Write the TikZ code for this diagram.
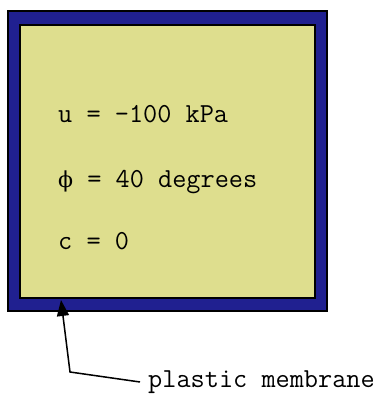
\documentclass[tikz,border=0pt]{standalone}
\usepackage{fontspec}
\newfontfamily\phifont{DejaVu Serif}
\usetikzlibrary{arrows.meta}
\definecolor{navy}{RGB}{32,32,144}
\definecolor{sand}{RGB}{222,222,142}
\begin{document}
\begin{tikzpicture}[x=1pt,y=1pt,
  txt/.style={anchor=base west,inner sep=0pt,font=\ttfamily\fontsize{27.5}{32}\selectfont},
  lbl/.style={anchor=base west,inner sep=0pt,font=\ttfamily\fontsize{27.5}{32}\selectfont}]
\useasboundingbox (0,0) rectangle (385,396);
\draw[fill=navy,line width=1.4pt] (8,85) rectangle (327,385);
\draw[fill=sand,line width=1.4pt] (20,98) rectangle (315,371);
\node[txt] (u) at (58,273) {u = \textendash100 kPa};
\node[txt] (phi) at (58,208) {{\phifont\fontsize{22}{26}\selectfont ϕ} = 40 degrees};
\node[txt] (c) at (58,146) {c = 0};
\node[lbl] (pm) at (148,9) {plastic membrane};
\coordinate (bend) at (70,24);
\coordinate (tip) at (61,96);
\draw[line width=1.5pt,-{Triangle[length=16pt,width=12pt]}] (140,14) -- (bend) -- (tip);
\end{tikzpicture}
\end{document}
